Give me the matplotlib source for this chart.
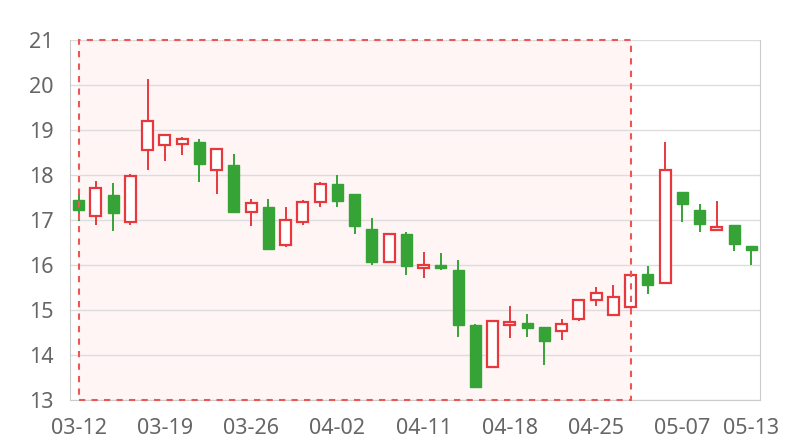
import matplotlib.pyplot as plt
from matplotlib.patches import Rectangle

dates = ['03-12', '03-13', '03-14', '03-15', '03-16',
         '03-19', '03-20', '03-21', '03-22', '03-23',
         '03-26', '03-27', '03-28', '03-29', '03-30',
         '04-02', '04-03', '04-04', '04-09', '04-10',
         '04-11', '04-12', '04-13', '04-16', '04-17',
         '04-18', '04-19', '04-20', '04-23', '04-24',
         '04-25', '04-26', '04-27', '05-02', '05-03',
         '05-07', '05-08', '05-09', '05-10', '05-13']

opens = [17.44, 17.08, 17.56, 16.96, 18.55, 18.67, 18.68, 18.74, 18.12, 18.23,
         17.18, 17.30, 16.45, 16.95, 17.39, 17.79, 17.58, 16.79, 16.07, 16.70,
         15.93, 16.01, 15.90, 14.66, 13.73, 14.66, 14.71, 14.62, 14.54, 14.81,
         15.22, 14.90, 15.06, 15.79, 15.60, 17.63, 17.23, 16.77, 16.88, 16.42]
closes = [17.23, 17.72, 17.16, 17.98, 19.19, 18.88, 18.81, 18.25, 18.57, 17.18,
          17.38, 16.36, 16.99, 17.41, 17.79, 17.43, 16.87, 16.06, 16.69, 15.97,
          15.99, 15.93, 14.66, 13.30, 14.75, 14.74, 14.60, 14.31, 14.70, 15.23,
          15.37, 15.29, 15.78, 15.55, 18.10, 17.36, 16.91, 16.84, 16.46, 16.34]
highs = [17.64, 17.87, 17.83, 18.02, 20.13, 18.92, 18.84, 18.79, 18.57, 18.47,
         17.46, 17.47, 17.30, 17.44, 17.84, 17.99, 17.58, 17.04, 16.71, 16.73,
         16.28, 16.26, 16.12, 14.68, 14.75, 15.10, 14.92, 14.62, 14.81, 15.25,
         15.51, 15.55, 15.78, 15.98, 18.73, 17.63, 17.36, 17.43, 16.88, 16.42]
lows = [16.97, 16.90, 16.76, 16.88, 18.10, 18.32, 18.44, 17.85, 17.58, 17.18,
        16.87, 16.36, 16.39, 16.89, 17.29, 17.30, 16.69, 15.99, 16.07, 15.78,
        15.71, 15.90, 14.39, 13.30, 13.73, 14.38, 14.39, 13.78, 14.33, 14.76,
        15.08, 14.90, 14.96, 15.36, 15.60, 16.96, 16.73, 16.77, 16.32, 15.99]

# highlighted period (index range)
area_start = 0
area_end = 32

label_idx = [0, 5, 10, 15, 20, 25, 30, 35, 39]

red = '#e8383d'
green = '#36a336'
grid_c = '#dddddd'
text_c = '#666666'

plt.rcParams['font.family'] = ['Noto Sans', 'DejaVu Sans']

fig = plt.figure(figsize=(8, 4.4), dpi=100)
ax = fig.add_axes([70 / 800, 40 / 440, 690 / 800, 360 / 440])

# mark area
ax.add_patch(Rectangle((area_start, 13), area_end - area_start, 8,
                       facecolor='#fff5f5', edgecolor='none', zorder=0))
ax.add_patch(Rectangle((area_start, 13), area_end - area_start, 8,
                       facecolor='none', edgecolor='#ee5555', linestyle=(0, (3, 3)),
                       linewidth=1.5, zorder=5, clip_on=False))

width = 0.64
for i in range(len(opens)):
    o, c, h, l = opens[i], closes[i], highs[i], lows[i]
    up = c >= o
    col = red if up else green
    ax.vlines(i, l, h, color=col, linewidth=1.4, zorder=2)
    bottom = min(o, c)
    height = max(abs(c - o), 0.04)
    if up:
        ax.bar(i, height, width, bottom=bottom, facecolor='white',
               edgecolor=col, linewidth=1.6, zorder=3)
    else:
        ax.bar(i, height, width, bottom=bottom, facecolor=col,
               edgecolor=col, linewidth=1.0, zorder=3)

ax.set_xlim(-0.5, len(dates) - 0.5)
ax.set_ylim(13, 21)
ax.set_yticks(range(13, 22))
ax.set_xticks(label_idx)
ax.set_xticklabels([dates[i] for i in label_idx])

ax.grid(axis='y', color=grid_c, linewidth=1, zorder=1)
ax.set_axisbelow(True)
for s in ['left', 'right', 'bottom', 'top']:
    ax.spines[s].set_color('#cccccc')
ax.spines['top'].set_visible(False)
ax.tick_params(axis='both', length=0, labelsize=15.5, colors=text_c)
ax.tick_params(axis='y', pad=12)
ax.tick_params(axis='x', pad=13)

fig.savefig('out.png', dpi=100)
